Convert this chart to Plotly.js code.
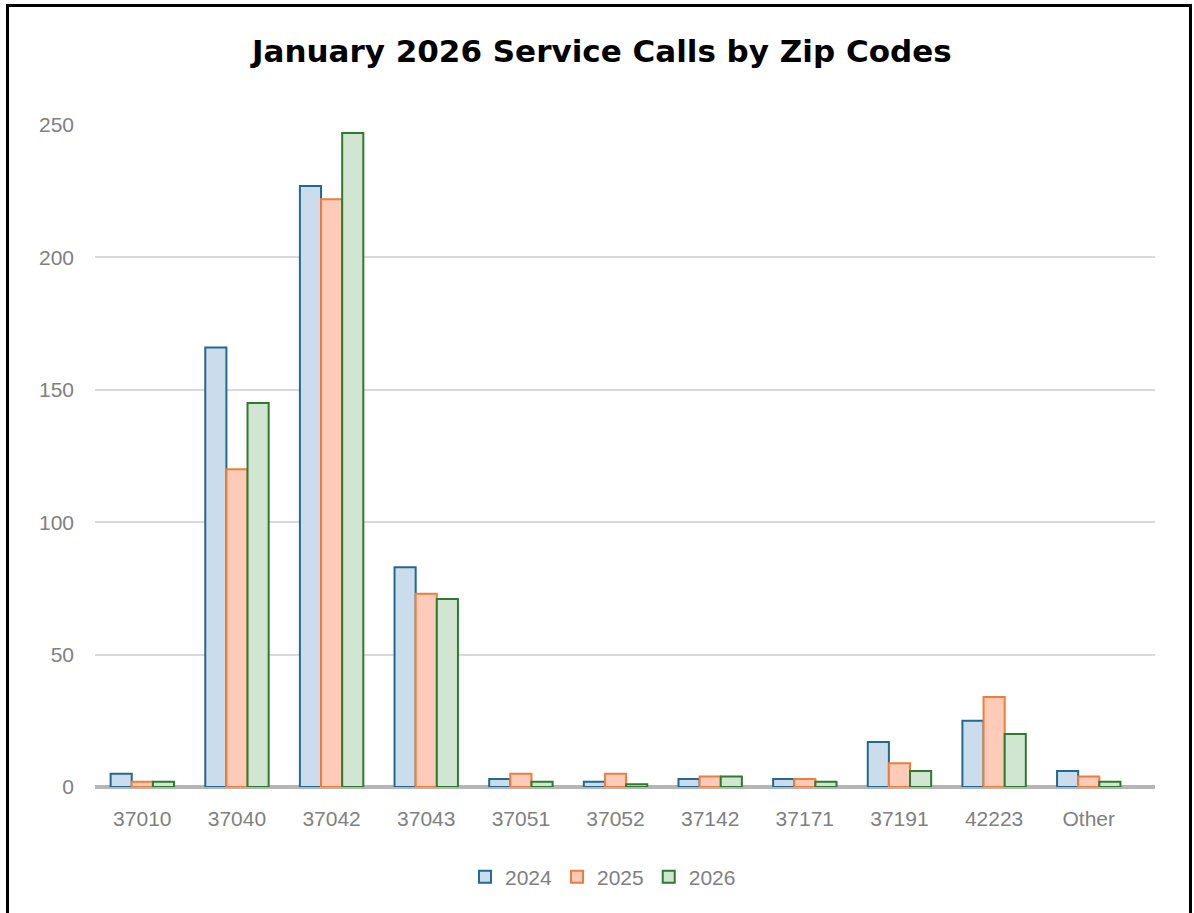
<!DOCTYPE html>
<html>
<head>
<meta charset="utf-8">
<script src="https://cdn.plot.ly/plotly-3.0.1.min.js"></script>
<style>
html, body { margin: 0; padding: 0; background: #ffffff; }
#wrap { position: relative; width: 1194px; height: 913px; overflow: hidden; }
#chart { width: 1194px; height: 913px; }
#frame { position: absolute; left: 6px; top: 4px; width: 1180px; height: 940px; border: 3px solid #000; pointer-events: none; }
</style>
</head>
<body>
<div id="wrap">
  <div id="chart"></div>
  <div id="frame"></div>
</div>
<script>
// ---- data ----
const zipCodes = ["37010", "37040", "37042", "37043", "37051", "37052", "37142", "37171", "37191", "42223", "Other"];
const calls2024 = [5, 166, 227, 83, 3, 2, 3, 3, 17, 25, 6];
const calls2025 = [2, 120, 222, 73, 5, 5, 4, 3, 9, 34, 4];
const calls2026 = [2, 145, 247, 71, 2, 1, 4, 2, 6, 20, 2];
const seriesNames = ["2024", "2025", "2026"];
const yTicks = [0, 50, 100, 150, 200, 250];

const fills = ["#cbdcec", "#fdcbb8", "#d0e6d0"];
const lines = ["#23698f", "#ee7d3c", "#2f7a30"];
const values = [calls2024, calls2025, calls2026];

const traces = seriesNames.map((name, i) => ({
  type: "bar",
  name: name,
  x: zipCodes,
  y: values[i],
  marker: { color: fills[i], line: { color: lines[i], width: 2 } },
  hoverinfo: "x+y+name"
}));

const layout = {
  width: 1194,
  height: 913,
  paper_bgcolor: "#ffffff",
  plot_bgcolor: "#ffffff",
  margin: { l: 95, r: 39, t: 125, b: 126 },
  title: {
    text: "<b>January 2026 Service Calls by Zip Codes</b>",
    font: { family: "DejaVu Sans, Liberation Sans, Arial, sans-serif", size: 31, color: "#000000" },
    x: 0.504, xanchor: "center", xref: "container",
    y: 1 - 51 / 913, yanchor: "middle", yref: "container"
  },
  barmode: "group",
  bargap: 0.33,
  bargroupgap: 0,
  xaxis: {
    type: "category",
    range: [-0.5, 10.7],
    showgrid: false,
    showline: false,
    zeroline: false,
    ticks: "",
    ticklabelstandoff: 17,
    tickfont: { family: "Liberation Sans, Arial, sans-serif", size: 21, color: "#808080" }
  },
  yaxis: {
    range: [0, 250],
    tickvals: yTicks,
    showgrid: true,
    gridcolor: "#d9d9d9",
    gridwidth: 2,
    zeroline: true,
    zerolinecolor: "#b5b5b5",
    zerolinewidth: 4,
    showline: false,
    ticks: "",
    ticklabelstandoff: 20,
    tickfont: { family: "Liberation Sans, Arial, sans-serif", size: 21, color: "#808080" }
  },
  showlegend: true,
  legend: {
    orientation: "h",
    x: 0.505, xanchor: "center", xref: "container",
    y: 1 - 877 / 913, yanchor: "middle", yref: "container",
    font: { family: "Liberation Sans, Arial, sans-serif", size: 21, color: "#808080" },
    itemwidth: 30,
    tracegroupgap: 0
  },
  hovermode: "closest"
};

Plotly.newPlot("chart", traces, layout, { displayModeBar: false, staticPlot: false });
</script>
</body>
</html>
